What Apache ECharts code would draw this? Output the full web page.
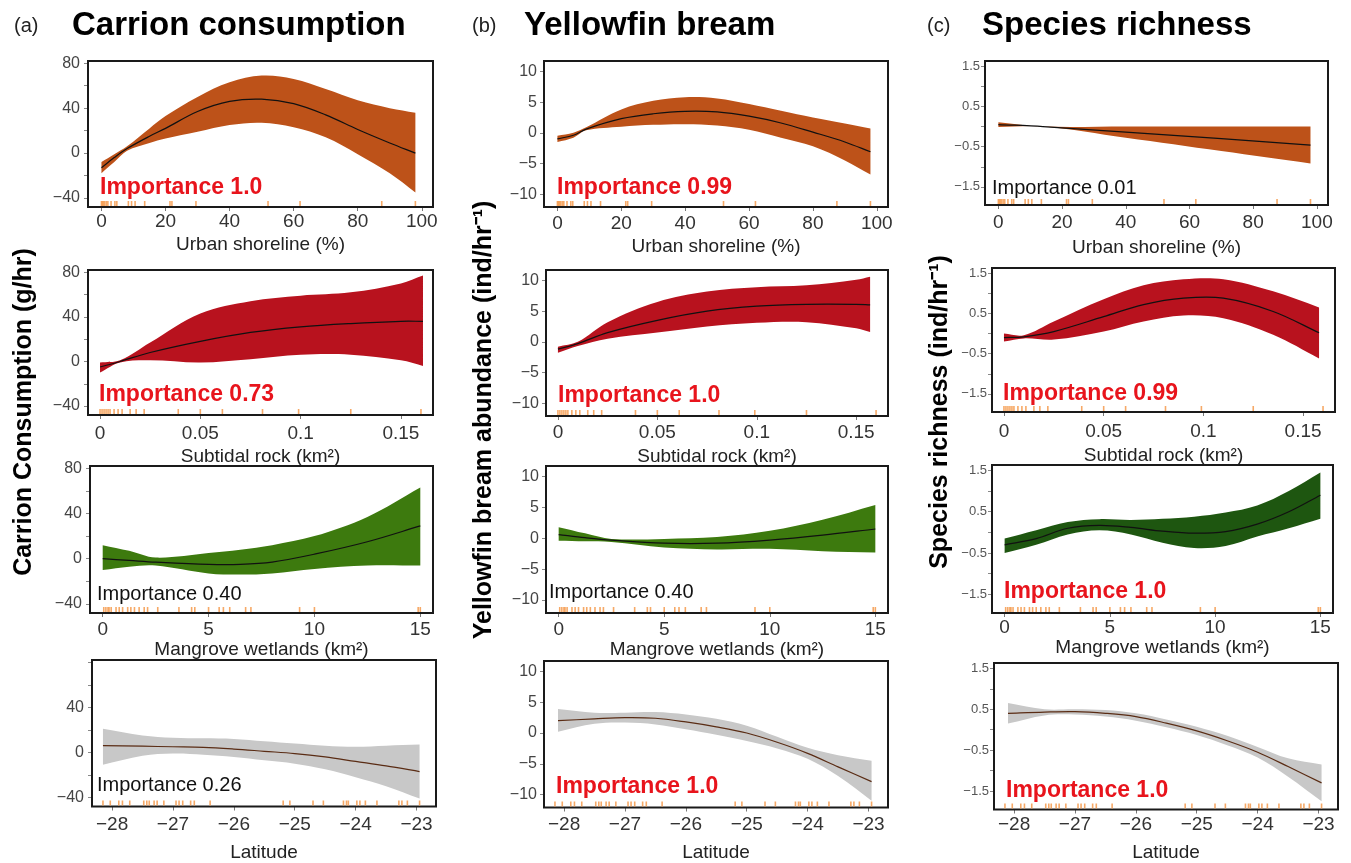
<!DOCTYPE html>
<html>
<head>
<meta charset="utf-8">
<script src="https://cdn.jsdelivr.net/npm/echarts@6/dist/echarts.min.js"></script>
<style>
html, body { margin: 0; padding: 0; background: #fff; }
#main { width: 1351px; height: 863px; }
</style>
</head>
<body>
<div id="main"></div>
<script>
// ---- labels ----
var responses = ['Carrion consumption', 'Yellowfin bream', 'Species richness'];
var panelTags = ['(a)', '(b)', '(c)'];
var yTitles = ['Carrion Consumption (g/hr)', 'Yellowfin bream abundance (ind/hr\u207b\u00b9)', 'Species richness (ind/hr\u207b\u00b9)'];
var predictors = ['Urban shoreline (%)', 'Subtidal rock (km\u00b2)', 'Mangrove wetlands (km\u00b2)', 'Latitude'];

// importance per response (rows = predictors)
var importanceA = ['1.0', '0.73', '0.40', '0.26'];
var importanceB = ['0.99', '1.0', '0.40', '1.0'];
var importanceC = ['0.01', '0.99', '1.0', '1.0'];

// ---- tick labels ----
var xTicksUrban = [0, 20, 40, 60, 80, 100];
var xTicksRock = [0, 0.05, 0.1, 0.15];
var xTicksMangrove = [0, 5, 10, 15];
var xTicksLat = [-28, -27, -26, -25, -24, -23];
var yTicksA = [-40, -20, 0, 20, 40, 60, 80];
var yLabelsA = [-40, 0, 40, 80];
var yLabelsA4 = [-40, 0, 40];
var yTicksB = [-10, -5, 0, 5, 10];
var yTicksC = [-1.5, -1, -0.5, 0, 0.5, 1, 1.5];
var yLabelsC = [-1.5, -0.5, 0.5, 1.5];

// ---- rug (sampled sites) ----
var urbanRug = [0, 0.3, 0.6, 1, 1.5, 2, 3, 4.2, 4.8, 8.4, 9.4, 10.5, 13.5, 21.4, 22, 29.5, 52, 62, 87.5, 98];
var rockRug = [0, 0.001, 0.002, 0.003, 0.004, 0.005, 0.007, 0.009, 0.011, 0.015, 0.018, 0.022, 0.039, 0.05, 0.061, 0.081, 0.099, 0.125, 0.16];
var mangroveRug = [0.05, 0.15, 0.25, 0.3, 0.4, 0.63, 0.78, 0.94, 1.18, 1.33, 1.5, 1.72, 1.96, 2.12, 2.6, 3.6, 4.2, 4.35, 5.0, 5.5, 5.7, 6.0, 6.75, 7.0, 9.3, 10.0, 14.9, 15.0];
var latRug = [-28.15, -28.03, -27.89, -27.83, -27.71, -27.48, -27.43, -27.39, -27.31, -27.26, -27.15, -26.95, -26.9, -26.84, -26.71, -26.65, -26.39, -25.19, -25.08, -24.7, -24.53, -24.2, -24.15, -24.12, -23.98, -23.93, -23.84, -23.65, -23.29, -23.24, -23.15, -22.95];

// ---- (a) carrion consumption ----
var a1X = [0, 4, 8, 15, 20, 30, 40, 50, 60, 70, 80, 90, 98];
var a1Mean = [-13, -4, 4, 15, 22, 37, 46, 48, 44, 34, 21, 9, 0];
var a1Hi = [-8, -1, 6, 22, 33, 50, 63, 69, 66, 57, 47, 40, 36];
var a1Lo = [-18, -8, 2, 9, 13, 19, 25, 27, 23, 14, -1, -18, -35];

var a2X = [0, 0.01, 0.025, 0.05, 0.075, 0.1, 0.125, 0.15, 0.161];
var a2Mean = [-5, 0, 8, 18, 26, 31, 34, 36, 36];
var a2Hi = [-1, 1, 17, 43, 54, 59, 62, 70, 77];
var a2Lo = [-10, -1, 1, -1, 2, 6, 6, 1, -4];

var a3X = [0, 1.25, 2.5, 5, 6.5, 8, 10, 12.5, 15];
var a3Mean = [0, -1.5, -3, -5, -5, -3, 4, 15, 29];
var a3Hi = [12, 7, 1, 5, 8, 12, 20, 37, 63];
var a3Lo = [-10, -7, -6, -13, -14, -13, -9, -6, -6];

var a4X = [-28.15, -27.5, -27, -26.5, -26, -25.5, -25, -24.5, -24, -23.5, -22.95];
var a4Mean = [6, 5.5, 5, 4.5, 3, 1, -1, -4, -8, -12, -17];
var a4Hi = [21, 15, 13, 12.5, 12, 10, 8, 6, 5, 6, 7];
var a4Lo = [-11, -3, -1, -2, -4, -7, -10, -15, -22, -30, -41];

// ---- (b) yellowfin bream ----
var b1X = [0, 5, 9, 20, 30, 40, 50, 60, 70, 80, 90, 98];
var b1Mean = [-1, -0.4, 0.6, 2.3, 3.1, 3.5, 3.4, 2.7, 1.6, 0.1, -1.5, -3.1];
var b1Hi = [-0.5, 0, 0.9, 3.8, 5.2, 5.8, 5.6, 4.7, 3.6, 2.5, 1.5, 0.7];
var b1Lo = [-1.5, -0.8, 0.4, 1.0, 1.3, 1.4, 1.2, 0.5, -0.8, -2.2, -4.5, -6.8];

var b2X = [0, 0.01, 0.025, 0.05, 0.075, 0.1, 0.125, 0.15, 0.157];
var b2Mean = [-1.2, -0.3, 1.5, 3.5, 5.0, 5.8, 6.1, 6.1, 6.0];
var b2Hi = [-0.8, 0, 3.2, 6.5, 8.2, 8.9, 9.2, 10.1, 10.6];
var b2Lo = [-1.8, -0.7, 0.5, 1.5, 2.5, 3.1, 3.2, 2.2, 1.6];

var b3X = [0, 1.25, 2.5, 5, 7.5, 10, 12.5, 15];
var b3Mean = [0.6, 0.1, -0.3, -0.8, -0.8, -0.3, 0.5, 1.5];
var b3Hi = [1.8, 0.8, -0.1, -0.1, 0.2, 1.2, 3.0, 5.4];
var b3Lo = [-0.4, -0.5, -0.6, -1.5, -1.8, -1.7, -2.1, -2.3];

var b4X = [-28.1, -27.5, -27, -26.5, -26, -25.5, -25, -24.5, -24, -23.5, -22.95];
var b4Mean = [2.0, 2.3, 2.5, 2.4, 1.8, 1.0, 0.0, -1.5, -3.3, -5.5, -7.9];
var b4Hi = [3.9, 3.3, 3.3, 3.4, 3.0, 2.3, 1.2, -0.6, -2.4, -3.6, -4.5];
var b4Lo = [0.2, 1.5, 1.7, 1.4, 0.6, -0.3, -1.3, -2.5, -4.2, -7.0, -11.0];

// ---- (c) species richness ----
var c1X = [0, 14, 40, 70, 98];
var c1Mean = [0.05, 0, -0.14, -0.3, -0.46];
var c1Hi = [0.11, 0, 0, 0, 0];
var c1Lo = [-0.01, 0, -0.28, -0.61, -0.92];

var c2X = [0, 0.01, 0.025, 0.05, 0.07, 0.09, 0.11, 0.135, 0.158];
var c2Mean = [-0.1, -0.08, 0.05, 0.42, 0.72, 0.88, 0.88, 0.55, 0.02];
var c2Hi = [0.0, -0.04, 0.3, 0.85, 1.2, 1.35, 1.35, 1.05, 0.65];
var c2Lo = [-0.2, -0.12, -0.15, 0.05, 0.3, 0.45, 0.38, -0.03, -0.62];

var c3X = [0, 1.5, 3, 4.5, 6, 7.5, 9, 10.5, 12, 13.5, 15];
var c3Mean = [-0.3, -0.15, 0.1, 0.17, 0.12, 0.03, -0.02, 0.02, 0.2, 0.5, 0.9];
var c3Hi = [-0.15, 0.05, 0.25, 0.32, 0.3, 0.33, 0.38, 0.48, 0.65, 1.0, 1.45];
var c3Lo = [-0.5, -0.3, -0.05, 0.05, -0.05, -0.25, -0.38, -0.33, -0.1, 0.1, 0.33];

var c4X = [-28.1, -27.5, -27, -26.5, -26, -25.5, -25, -24.5, -24, -23.5, -22.95];
var c4Mean = [0.4, 0.43, 0.44, 0.4, 0.32, 0.16, -0.03, -0.27, -0.55, -0.9, -1.3];
var c4Hi = [0.65, 0.5, 0.5, 0.48, 0.4, 0.25, 0.07, -0.15, -0.42, -0.7, -0.85];
var c4Lo = [0.15, 0.35, 0.37, 0.32, 0.22, 0.06, -0.13, -0.38, -0.68, -1.15, -1.75];

// ---- styling / layout ----
var FONT = 'Liberation Sans, Arial, Helvetica, sans-serif';
var RED = '#e8141c';
var SMOOTH = 0.35;
var colUrban = '#bd5219', colRock = '#b8121e', colMangrove = '#3d7a0e', colMangroveDark = '#1e5610', colLat = '#c8c8c8';

var xCfg = [
  { ticks: xTicksUrban, min: -4.2, max: 103.5, rug: urbanRug },
  { ticks: xTicksRock, min: -0.006, max: 0.166, rug: rockRug },
  { ticks: xTicksMangrove, min: -0.6, max: 15.6, rug: mangroveRug },
  { ticks: xTicksLat, min: -28.33, max: -22.68, rug: latRug }
];
var yCfg = [
  { min: -48, max: 82, ticks: yTicksA, labels: [yLabelsA, yLabelsA, yLabelsA, yLabelsA4], size: 16, margin: 8 },
  { min: -12.1, max: 11.7, ticks: yTicksB, labels: [yTicksB, yTicksB, yTicksB, yTicksB], size: 16, margin: 7 },
  { min: -1.95, max: 1.63, ticks: yTicksC, labels: [yLabelsC, yLabelsC, yLabelsC, yLabelsC], size: 13, margin: 5 }
];

// per panel boxes: left, top, width, height, label centre y, name centre y, importance x, y
var boxes = [
  [[88, 61, 345, 146, 222, 245, 100, 188], [88, 270, 345, 145, 434, 457, 99, 395], [90, 466, 343, 147, 630, 644, 97, 594], [92, 660, 344, 147, 825, 853, 97, 785]],
  [[544, 61, 344, 146, 224, 247, 557, 188], [546, 270, 342, 146, 433, 457, 558, 396], [546, 466, 342, 147, 630, 644, 549, 592], [544, 661, 344, 147, 825, 853, 556, 787]],
  [[985, 61, 343, 144, 223, 248, 992, 188], [992, 268, 343, 144, 432, 456, 1003, 394], [992, 465, 341, 148, 628, 643, 1004, 592], [994, 663, 344, 147, 825, 853, 1006, 791]]
];

var curves = [
  [[a1X, a1Mean, a1Hi, a1Lo], [a2X, a2Mean, a2Hi, a2Lo], [a3X, a3Mean, a3Hi, a3Lo], [a4X, a4Mean, a4Hi, a4Lo]],
  [[b1X, b1Mean, b1Hi, b1Lo], [b2X, b2Mean, b2Hi, b2Lo], [b3X, b3Mean, b3Hi, b3Lo], [b4X, b4Mean, b4Hi, b4Lo]],
  [[c1X, c1Mean, c1Hi, c1Lo], [c2X, c2Mean, c2Hi, c2Lo], [c3X, c3Mean, c3Hi, c3Lo], [c4X, c4Mean, c4Hi, c4Lo]]
];
var importance = [importanceA, importanceB, importanceC];
var bandColors = [
  [colUrban, colRock, colMangrove, colLat],
  [colUrban, colRock, colMangrove, colLat],
  [colUrban, colRock, colMangroveDark, colLat]
];

function fmt(v) {
  return (v < 0 ? '\u2212' : '') + Math.abs(v);
}

// bezier control point, same idea as echarts line smoothing
function ctrl(prev, cur, next, dir) {
  var vx = next[0] - prev[0], vy = next[1] - prev[1];
  var dp = Math.hypot(cur[0] - prev[0], cur[1] - prev[1]);
  var dn = Math.hypot(next[0] - cur[0], next[1] - cur[1]);
  var sum = dp + dn;
  if (!sum) return cur;
  var ratio = dir > 0 ? dn / sum : dp / sum;
  return [cur[0] + dir * vx * SMOOTH * ratio, cur[1] + dir * vy * SMOOTH * ratio];
}
function curvePath(p, start) {
  var d = start + p[0][0].toFixed(2) + ',' + p[0][1].toFixed(2);
  for (var j = 0; j < p.length - 1; j++) {
    var c1 = ctrl(p[j - 1] || p[j], p[j], p[j + 1], 1);
    var c2 = ctrl(p[j], p[j + 1], p[j + 2] || p[j + 1], -1);
    d += 'C' + c1[0].toFixed(2) + ',' + c1[1].toFixed(2) + ' ' + c2[0].toFixed(2) + ',' + c2[1].toFixed(2) +
      ' ' + p[j + 1][0].toFixed(2) + ',' + p[j + 1][1].toFixed(2);
  }
  return d;
}

function makeRender(cv, fill, lineCol) {
  return function (params, api) {
    if (params.dataIndex !== 0) return null;
    var xs = cv[0];
    var up = xs.map(function (x, j) { return api.coord([x, cv[2][j]]); });
    var lo = xs.map(function (x, j) { return api.coord([x, cv[3][j]]); }).reverse();
    var mid = xs.map(function (x, j) { return api.coord([x, cv[1][j]]); });
    return {
      type: 'group',
      children: [
        { type: 'path', shape: { pathData: curvePath(up, 'M') + curvePath(lo, 'L') + 'Z' }, style: { fill: fill, stroke: null } },
        { type: 'path', shape: { pathData: curvePath(mid, 'M') }, style: { fill: null, stroke: lineCol, lineWidth: 1.2 } }
      ]
    };
  };
}

var grids = [], xAxes = [], yAxes = [], series = [], texts = [];

for (var c = 0; c < 3; c++) {
  for (var r = 0; r < 4; r++) {
    var i = grids.length;
    var b = boxes[c][r];
    var bottom = b[1] + b[3];
    var yc = yCfg[c], xc = xCfg[r];
    var cv = curves[c][r];

    grids.push({
      left: b[0], top: b[1], width: b[2], height: b[3],
      show: true, backgroundColor: 'transparent',
      borderColor: '#1a1a1a', borderWidth: 2, z: 5
    });
    xAxes.push({
      gridIndex: i, type: 'value', min: xc.min, max: xc.max,
      axisLine: { show: false, onZero: false }, splitLine: { show: false },
      axisTick: { show: true, length: 4, customValues: xc.ticks, lineStyle: { color: '#777' } },
      axisLabel: { customValues: xc.ticks, formatter: fmt, fontSize: 19, fontFamily: FONT, color: '#333', margin: b[4] - 9.5 - bottom },
      name: predictors[r], nameLocation: 'middle', nameGap: b[5] - 9.5 - bottom,
      nameTextStyle: { fontSize: 19, fontFamily: FONT, color: '#222' }
    });
    yAxes.push({
      gridIndex: i, type: 'value', min: yc.min, max: yc.max,
      axisLine: { show: false, onZero: false }, splitLine: { show: false },
      axisTick: { show: true, length: 4, customValues: yc.ticks, lineStyle: { color: '#888' } },
      axisLabel: { customValues: yc.labels[r], formatter: fmt, fontSize: yc.size, fontFamily: FONT, color: c === 2 ? '#555' : '#444', margin: yc.margin }
    });

    var lineCol = r === 3 ? '#5a2c14' : '#111';
    series.push({
      type: 'custom', xAxisIndex: i, yAxisIndex: i, silent: true, z: 2,
      data: cv[0].map(function (x, j) { return [x, cv[3][j], cv[2][j]]; }),
      encode: { x: 0, y: [1, 2] },
      renderItem: makeRender(cv, bandColors[c][r], lineCol)
    });
    series.push({
      type: 'scatter', xAxisIndex: i, yAxisIndex: i, clip: false, silent: true, z: 6,
      data: xc.rug.map(function (v) { return [v, yc.min]; }),
      symbol: 'rect', symbolSize: [1.6, 5], symbolOffset: [0, -3.5],
      itemStyle: { color: '#f59a4c', opacity: 0.85 }
    });

    var imp = importance[c][r];
    var strong = parseFloat(imp) >= 0.5;
    texts.push({
      type: 'text', x: b[6], y: b[7], z: 100,
      style: {
        text: 'Importance ' + imp, fontFamily: FONT,
        fontSize: strong ? 23 : 20, fontWeight: strong ? 'bold' : 'normal',
        fill: strong ? RED : '#111', align: 'left', verticalAlign: 'middle'
      }
    });
  }
}

var tagX = [14, 472, 927], titleX = [72, 524, 982];
var yTitleX = [24, 484, 940], yTitleY = [412, 420, 412];
for (var k = 0; k < 3; k++) {
  texts.push({
    type: 'text', x: tagX[k], y: 26, z: 100,
    style: { text: panelTags[k], fontFamily: FONT, fontSize: 20, fill: '#222', align: 'left', verticalAlign: 'middle' }
  });
  texts.push({
    type: 'text', x: titleX[k], y: 26, z: 100,
    style: { text: responses[k], fontFamily: FONT, fontSize: 33, fontWeight: 'bold', fill: '#000', align: 'left', verticalAlign: 'middle' }
  });
  texts.push({
    type: 'text', x: yTitleX[k], y: yTitleY[k], rotation: Math.PI / 2, z: 100,
    style: { text: yTitles[k], fontFamily: FONT, fontSize: 25, fontWeight: 'bold', fill: '#000', align: 'center', verticalAlign: 'middle' }
  });
}

var myChart = echarts.init(document.getElementById('main'));
myChart.setOption({
  animation: false,
  backgroundColor: '#fff',
  grid: grids,
  xAxis: xAxes,
  yAxis: yAxes,
  series: series,
  graphic: { elements: texts }
});
</script>
</body>
</html>
